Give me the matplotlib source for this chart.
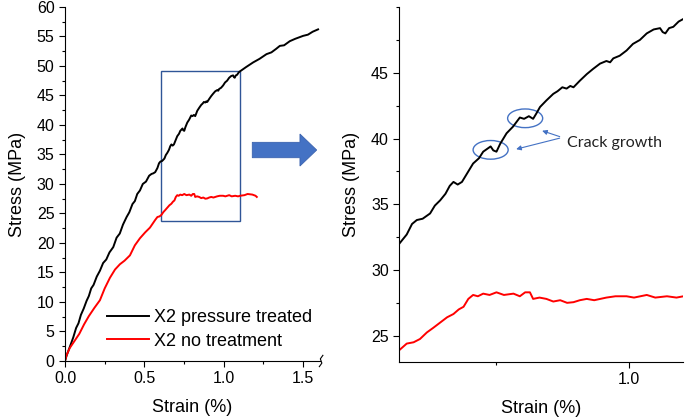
import matplotlib
matplotlib.use("Agg")
from matplotlib import pyplot as plt
from matplotlib.patches import Rectangle, Ellipse, FancyArrow
from matplotlib.ticker import MultipleLocator, FormatStrFormatter

plt.rcParams['font.family'] = ['Liberation Sans', 'DejaVu Sans']

# stress-strain data
black_strain = [0.000, 0.010, 0.025, 0.040, 0.052, 0.070, 0.085, 0.100, 0.118, 0.136,
                0.150, 0.165, 0.180, 0.200, 0.220, 0.240, 0.260, 0.280, 0.304, 0.325,
                0.345, 0.365, 0.388, 0.405, 0.425, 0.440, 0.455, 0.472, 0.490, 0.510,
                0.530, 0.545, 0.556, 0.568, 0.582, 0.592, 0.601, 0.612, 0.626, 0.635,
                0.645, 0.655, 0.663, 0.670, 0.678, 0.686, 0.695, 0.707, 0.718, 0.726,
                0.733, 0.740, 0.745, 0.751, 0.758, 0.770, 0.782, 0.795, 0.803, 0.812,
                0.820, 0.826, 0.833, 0.845, 0.858, 0.866, 0.875, 0.883, 0.890, 0.896,
                0.908, 0.921, 0.933, 0.946, 0.958, 0.965, 0.971, 0.983, 0.996, 1.008,
                1.021, 1.034, 1.047, 1.059, 1.064, 1.069, 1.076, 1.084, 1.094, 1.103,
                1.140, 1.185, 1.225, 1.269, 1.300, 1.330, 1.353, 1.380, 1.416, 1.450,
                1.480, 1.500, 1.530, 1.560, 1.594]
black_stress = [0.0, 0.9, 2.0, 3.1, 4.0, 5.6, 6.4, 7.8, 8.9, 10.2,
                11.0, 12.3, 12.9, 14.3, 15.3, 16.6, 17.2, 18.4, 19.3, 20.9,
                21.6, 23.1, 24.4, 25.2, 26.6, 27.1, 28.3, 28.9, 30.0, 30.4,
                31.4, 31.7, 31.8, 32.0, 32.7, 33.5, 33.8, 33.9, 34.3, 34.9,
                35.3, 35.8, 36.4, 36.7, 36.5, 36.7, 37.3, 38.1, 38.5, 39.0,
                39.2, 39.4, 39.1, 39.0, 39.6, 40.4, 40.9, 41.6, 41.5, 41.7,
                41.5, 41.9, 42.4, 42.9, 43.4, 43.6, 43.9, 43.8, 44.0, 43.9,
                44.4, 44.9, 45.3, 45.7, 45.9, 45.8, 46.1, 46.3, 46.7, 47.2,
                47.5, 48.0, 48.3, 48.4, 48.1, 48.0, 48.4, 48.5, 48.9, 49.1,
                49.8, 50.6, 51.2, 52.0, 52.3, 52.9, 53.4, 53.5, 54.2, 54.6,
                54.9, 55.1, 55.3, 55.8, 56.2]

red_strain = [0.000, 0.010, 0.030, 0.060, 0.090, 0.120, 0.150, 0.185, 0.220, 0.250,
              0.283, 0.315, 0.346, 0.375, 0.409, 0.440, 0.472, 0.505, 0.535, 0.568,
              0.582, 0.595, 0.607, 0.620, 0.632, 0.645, 0.658, 0.670, 0.680, 0.689,
              0.698, 0.707, 0.716, 0.726, 0.738, 0.751, 0.765, 0.783, 0.795, 0.805,
              0.814, 0.820, 0.832, 0.845, 0.858, 0.871, 0.884, 0.896, 0.908, 0.921,
              0.935, 0.958, 0.975, 0.996, 1.010, 1.034, 1.050, 1.072, 1.090, 1.103,
              1.130, 1.150, 1.180, 1.200, 1.208]
red_stress = [0.0, 1.0, 2.2, 3.4, 4.6, 6.2, 7.6, 9.0, 10.3, 12.3,
              14.1, 15.5, 16.4, 17.0, 17.9, 19.6, 20.8, 21.8, 22.6, 23.9,
              24.4, 24.5, 24.75, 25.25, 25.6, 26.0, 26.4, 26.65, 27.0, 27.2,
              27.8, 28.1, 28.0, 28.2, 28.1, 28.3, 28.1, 28.2, 28.0, 28.3,
              28.3, 27.8, 27.9, 27.8, 27.6, 27.7, 27.5, 27.55, 27.7, 27.8,
              27.7, 27.9, 28.0, 28.0, 27.9, 28.1, 27.9, 28.0, 27.9, 28.0,
              28.1, 28.3, 28.2, 28.0, 27.8]

labels = ["X2 pressure treated", "X2 no treatment"]
blue = "#4472C4"

fig = plt.figure(figsize=(6.85, 4.18), dpi=100)
ax1 = fig.add_axes([0.0949, 0.1364, 0.372, 0.847])
ax2 = fig.add_axes([0.5829, 0.134, 0.414, 0.849])

for ax in (ax1, ax2):
    ax.plot(black_strain, black_stress, color='black', lw=1.4, label=labels[0])
    ax.plot(red_strain, red_stress, color='red', lw=1.4, label=labels[1])
    ax.spines['top'].set_visible(False)
    ax.spines['right'].set_visible(False)
    ax.tick_params(which='major', direction='out', length=4, width=0.8, labelsize=11.5)
    ax.tick_params(which='minor', direction='out', length=2.5, width=0.8)
    ax.xaxis.set_major_locator(MultipleLocator(0.5))
    ax.xaxis.set_minor_locator(MultipleLocator(0.25))
    ax.xaxis.set_major_formatter(FormatStrFormatter('%.1f'))
    ax.yaxis.set_major_locator(MultipleLocator(5))
    ax.yaxis.set_minor_locator(MultipleLocator(2.5))
    ax.set_xlabel("Strain (%)", fontsize=13, labelpad=9)

ax1.set_ylabel("Stress (MPa)", fontsize=13, labelpad=8)
ax2.set_ylabel("Stress (MPa)", fontsize=13, labelpad=8)

# left: full curve
ax1.set_xlim(0, 1.605)
ax1.set_ylim(0, 60)
ax1.add_patch(Rectangle((0.604, 23.8), 0.497, 25.4, fill=False, ec='#2F5597', lw=1))
ax1.legend(loc='upper left', bbox_to_anchor=(0.165, 0.147), frameon=False,
           fontsize=13, handlelength=2.3, handletextpad=0.28, labelspacing=0.37,
           borderpad=0, borderaxespad=0)
# axis break mark at the end of the strain axis
ax1.plot([0.998, 1.008, 1.002, 1.012], [-0.016, -0.006, 0.006, 0.016],
         transform=ax1.transAxes, color='black', lw=0.8, clip_on=False)

# right: zoomed region
ax2.set_xlim(0.568, 1.102)
ax2.set_ylim(23, 50)
ax2.set_xticks([1.0])
ax2.set_yticks([25, 30, 35, 40, 45])
for cx, cy in [(0.740, 39.14), (0.805, 41.54)]:
    ax2.add_patch(Ellipse((cx, cy), 0.066, 1.42, fill=False, ec=blue, lw=1))
for hx, hy in [(0.783, 39.14), (0.832, 40.66)]:
    ax2.annotate("", xy=(hx, hy), xytext=(0.875, 40.08),
                 arrowprops=dict(arrowstyle='-|>', color=blue, lw=0.8, mutation_scale=7))
ax2.text(0.884, 39.64, "Crack growth", fontsize=11.5, family=['Lato', 'DejaVu Sans'],
         ha='left', va='center', color='#222222')

# block arrow between the panels
fig.patches.append(FancyArrow(0.3683, 0.6411, 0.094, 0, width=0.0368, head_width=0.0766,
                              head_length=0.0244, length_includes_head=True,
                              transform=fig.transFigure, fc=blue, ec='#3A62AE', lw=0.6))

plt.savefig("out.png", dpi=100)
